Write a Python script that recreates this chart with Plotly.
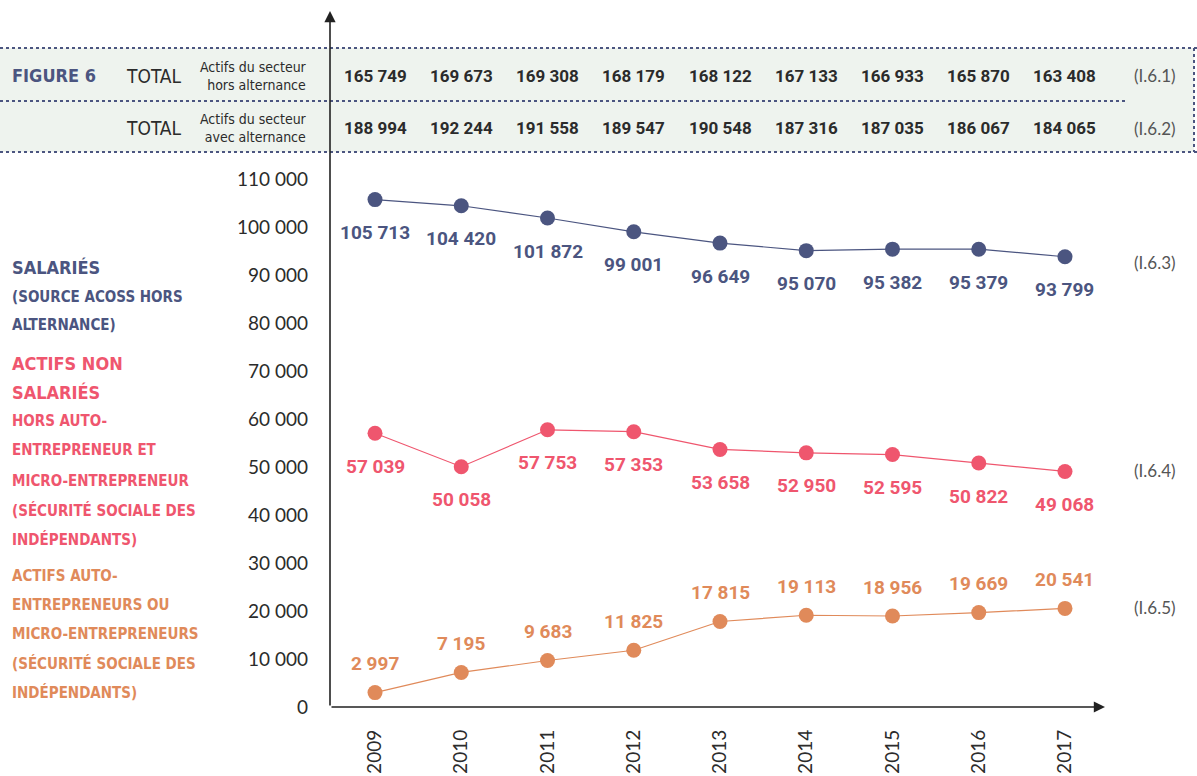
import plotly.graph_objects as go

years = [2009, 2010, 2011, 2012, 2013, 2014, 2015, 2016, 2017]
total_hors = [165749, 169673, 169308, 168179, 168122, 167133, 166933, 165870, 163408]
total_avec = [188994, 192244, 191558, 189547, 190548, 187316, 187035, 186067, 184065]
salaries = [105713, 104420, 101872, 99001, 96649, 95070, 95382, 95379, 93799]
non_salaries = [57039, 50058, 57753, 57353, 53658, 52950, 52595, 50822, 49068]
auto_entrepreneurs = [2997, 7195, 9683, 11825, 17815, 19113, 18956, 19669, 20541]
y_ticks = [0, 10000, 20000, 30000, 40000, 50000, 60000, 70000, 80000, 90000, 100000, 110000]
row_codes = ["(I.6.1)", "(I.6.2)", "(I.6.3)", "(I.6.4)", "(I.6.5)"]

W, H = 1197, 776
L, R, T, B = 330, 92, 11, 69
PW, PH = W - L - R, H - T - B

C_BLUE = "#4B5580"
C_PINK = "#EF566E"
C_ORANGE = "#E08A5A"
C_TEXT = "#2b2b2b"
NUM_FONT = "Roboto, Arial, sans-serif"
COND_FONT = "Liberation Sans Narrow, DejaVu Sans Condensed, Arial Narrow, sans-serif"
GEO_FONT = "Lato, Open Sans, sans-serif"


def fmt(v):
    return f"{v:,}".replace(",", " ")


def px(xp):
    return (xp - L) / PW


def py(yp):
    return (H - B - yp) / PH


fig = go.Figure()

series = [
    (salaries, C_BLUE, -33),
    (non_salaries, C_PINK, -33),
    (auto_entrepreneurs, C_ORANGE, 29),
]
annotations = []
for vals, col, shift in series:
    fig.add_trace(go.Scatter(
        x=years, y=vals, mode="lines+markers",
        line=dict(color=col, width=1.2),
        marker=dict(size=15, color=col),
        hoverinfo="skip", showlegend=False,
    ))
    for xv, yv in zip(years, vals):
        annotations.append(dict(
            x=xv, y=yv, xref="x", yref="y", text=fmt(yv), showarrow=False,
            yshift=shift, font=dict(family=NUM_FONT, size=19, color=col, weight="bold"),
        ))

# header table values
for xv, a, b in zip(years, total_hors, total_avec):
    annotations.append(dict(x=xv, y=py(76), xref="x", yref="paper", text=fmt(a),
                            font=dict(family=NUM_FONT, size=17, color=C_TEXT, weight="bold")))
    annotations.append(dict(x=xv, y=py(128), xref="x", yref="paper", text=fmt(b),
                            font=dict(family=NUM_FONT, size=17, color=C_TEXT, weight="bold")))

# header left texts
annotations += [
    dict(x=px(10), y=py(76), text="FIGURE 6", xanchor="left",
         font=dict(family=COND_FONT, size=18, color=C_BLUE, weight="bold")),
    dict(x=px(124), y=py(76), text="TOTAL", xanchor="left",
         font=dict(family=COND_FONT, size=19, color=C_TEXT)),
    dict(x=px(124), y=py(128), text="TOTAL", xanchor="left",
         font=dict(family=COND_FONT, size=19, color=C_TEXT)),
    dict(x=px(309), y=py(76), text="Actifs du secteur<br>hors alternance", xanchor="right", align="right",
         font=dict(family=COND_FONT, size=14, color=C_TEXT)),
    dict(x=px(309), y=py(128), text="Actifs du secteur<br>avec alternance", xanchor="right", align="right",
         font=dict(family=COND_FONT, size=14, color=C_TEXT)),
]

# right codes
for code, yp in zip(row_codes, [76, 128, 262, 470, 607]):
    annotations.append(dict(x=px(1155), y=py(yp), text=code, xanchor="center",
                            font=dict(family=GEO_FONT, size=17, color="#555555")))

# left side series labels
left_labels = [
    ("SALARIÉS", 268, 18, C_BLUE),
    ("(SOURCE ACOSS HORS", 297, 15, C_BLUE),
    ("ALTERNANCE)", 325, 15, C_BLUE),
    ("ACTIFS NON", 363, 18, C_PINK),
    ("SALARIÉS", 392, 18, C_PINK),
    ("HORS AUTO-", 421, 15, C_PINK),
    ("ENTREPRENEUR ET", 450, 15, C_PINK),
    ("MICRO-ENTREPRENEUR", 481, 15, C_PINK),
    ("(SÉCURITÉ SOCIALE DES", 510, 15, C_PINK),
    ("INDÉPENDANTS)", 539, 15, C_PINK),
    ("ACTIFS AUTO-", 576, 15, C_ORANGE),
    ("ENTREPRENEURS OU", 605, 15, C_ORANGE),
    ("MICRO-ENTREPRENEURS", 634, 15, C_ORANGE),
    ("(SÉCURITÉ SOCIALE DES", 663, 15, C_ORANGE),
    ("INDÉPENDANTS)", 692, 15, C_ORANGE),
]
for txt, yp, sz, col in left_labels:
    annotations.append(dict(x=px(10), y=py(yp), text=txt, xanchor="left",
                            font=dict(family=COND_FONT, size=sz, color=col, weight="bold")))

for a in annotations:
    a.setdefault("xref", "paper")
    a.setdefault("yref", "paper")
    a.setdefault("showarrow", False)
    a.setdefault("xanchor", "center")
    a.setdefault("yanchor", "middle")

# axis arrows
annotations.append(dict(x=1, y=0, xref="paper", yref="paper", ax=-PW, ay=0, text="",
                        showarrow=True, arrowhead=2, arrowsize=1.4, arrowwidth=1.6, arrowcolor="#222"))
annotations.append(dict(x=0, y=1, xref="paper", yref="paper", ax=0, ay=PH, text="",
                        showarrow=True, arrowhead=2, arrowsize=1.4, arrowwidth=1.6, arrowcolor="#222"))

shapes = [
    dict(type="rect", xref="paper", yref="paper", x0=px(0), x1=px(1194), y0=py(152), y1=py(48),
         fillcolor="#EEF3EE", line=dict(width=0), layer="below"),
]
for y_line, x_end in [(48, 1197), (101, 1125), (152, 1197)]:
    shapes.append(dict(type="line", xref="paper", yref="paper", x0=px(0), x1=px(x_end),
                       y0=py(y_line), y1=py(y_line), line=dict(color=C_BLUE, width=2, dash="dot")))
shapes.append(dict(type="line", xref="paper", yref="paper", x0=px(1194), x1=px(1194),
                   y0=py(48), y1=py(152), line=dict(color=C_BLUE, width=2, dash="dot")))

fig.update_layout(
    width=W, height=H,
    margin=dict(l=L, r=R, t=T, b=B, autoexpand=False),
    paper_bgcolor="white", plot_bgcolor="rgba(0,0,0,0)",
    annotations=annotations, shapes=shapes,
    xaxis=dict(range=[2008.478, 2017.464], tickvals=years, ticktext=[str(y) for y in years],
               tickangle=-90, showgrid=False, zeroline=False, showline=False, ticks="",
               ticklabelstandoff=18, tickfont=dict(family=GEO_FONT, size=19, color=C_TEXT)),
    yaxis=dict(range=[0, 145000], tickvals=y_ticks, ticktext=[fmt(v) for v in y_ticks],
               showgrid=False, zeroline=False, showline=False, ticks="",
               ticklabelstandoff=21, tickfont=dict(family=GEO_FONT, size=19, color=C_TEXT)),
)

fig.write_html("out.html", config={"displayModeBar": False},
               post_script="document.body.style.margin='0px';document.body.style.overflow='hidden';")
